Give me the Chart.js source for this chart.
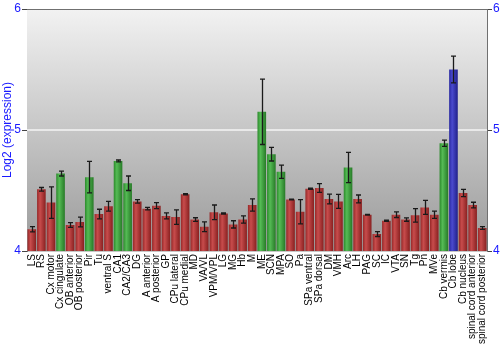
<!DOCTYPE html>
<html><head><meta charset="utf-8">
<script src="https://cdn.jsdelivr.net/npm/chart.js@4/dist/chart.umd.min.js"></script>
<style>html,body{margin:0;padding:0;background:#fff}#wrap{width:500px;height:350px}</style>
</head><body><div id="wrap"><canvas id="c" width="500" height="350"></canvas></div>
<script>
const categories = ["LS","RS","Cx motor","Cx cingulate","OB anterior","OB posterior","Pir","Tu","ventral S","CA1","CA2/CA3","DG","A anterior","A posterior","GP","CPu lateral","CPu medial","MD","VA/VL","VPM/VPL","LG","MG","Hb","M","ME","SCN","MPA","SO","Pa","SPa ventral","SPa dorsal","DM","VMH","Arc","LH","PAG","SC","IC","VTA","SN","Tg","Pn","MVe","Cb vermis","Cb lobe","Cb nucleus","spinal cord anterior","spinal cord posterior"];
const expression = [4.18,4.51,4.40,4.64,4.215,4.24,4.61,4.305,4.37,4.744,4.56,4.41,4.35,4.375,4.29,4.28,4.47,4.26,4.20,4.32,4.31,4.22,4.26,4.38,5.15,4.80,4.655,4.425,4.325,4.515,4.52,4.43,4.41,4.69,4.43,4.30,4.14,4.25,4.30,4.26,4.295,4.36,4.30,4.89,5.50,4.48,4.38,4.19];
const errors = [0.022,0.015,0.13,0.02,0.02,0.04,0.13,0.04,0.04,0.008,0.06,0.015,0.01,0.025,0.025,0.06,0.005,0.015,0.04,0.06,0.005,0.03,0.03,0.05,0.27,0.056,0.054,0.003,0.1,0.005,0.036,0.04,0.058,0.125,0.033,0.003,0.02,0.005,0.023,0.014,0.056,0.058,0.03,0.026,0.11,0.03,0.023,0.012];
const groups = ["r","r","r","g","r","r","g","r","r","g","g","r","r","r","r","r","r","r","r","r","r","r","r","r","g","g","g","r","r","r","r","r","r","g","r","r","r","r","r","r","r","r","r","g","b","r","r","r"];
const yTicks = [4,5,6];

const palette = {
  r: ["#962828","#c84c4c","#882020"],
  g: ["#2c8a2c","#55bb55","#277a27"],
  b: ["#2828a0","#4a4ace","#20208a"]
};

function barFill(ctx){
  const chart = ctx.chart;
  const xs = chart.scales && chart.scales.x;
  const g = groups[ctx.dataIndex] || "r";
  const p = palette[g];
  if (!xs || !chart.chartArea) return p[1];
  const cx = xs.getPixelForValue(ctx.dataIndex);
  const w = xs.width / categories.length * 0.9;
  const grad = chart.ctx.createLinearGradient(cx - w/2, 0, cx + w/2, 0);
  grad.addColorStop(0, p[0]);
  grad.addColorStop(0.35, p[1]);
  grad.addColorStop(1, p[2]);
  return grad;
}

const bgPlugin = {
  id: 'bg',
  beforeDatasetsDraw(chart){
    const a = chart.chartArea, c = chart.ctx;
    c.save();
    const gr = c.createLinearGradient(0, a.top, 0, a.bottom);
    gr.addColorStop(0, "#f2f2f2");
    gr.addColorStop(1, "#9a9a9a");
    c.fillStyle = gr;
    c.fillRect(a.left, a.top, a.right - a.left, a.bottom - a.top);
    const y5 = chart.scales.y.getPixelForValue(5);
    c.strokeStyle = "#f4f4f4"; c.lineWidth = 1.5;
    c.beginPath(); c.moveTo(a.left, y5); c.lineTo(a.right, y5); c.stroke();
    c.strokeStyle = "#707070"; c.lineWidth = 1;
    c.beginPath(); c.moveTo(a.left, a.top + 0.5); c.lineTo(a.right, a.top + 0.5); c.stroke();
    c.restore();
  }
};

const errPlugin = {
  id: 'err',
  afterDatasetsDraw(chart){
    const meta = chart.getDatasetMeta(0);
    const ys = chart.scales.y, c = chart.ctx;
    c.save();
    c.strokeStyle = "#1a1a1a"; c.lineWidth = 1.3;
    meta.data.forEach((el, i) => {
      const v = expression[i], e = errors[i];
      const t = ys.getPixelForValue(v + e), b = ys.getPixelForValue(v - e);
      const x = Math.round(el.x) + 0.5;
      c.beginPath();
      c.moveTo(x, t); c.lineTo(x, b);
      c.moveTo(x - 2.5, t); c.lineTo(x + 2.5, t);
      c.moveTo(x - 2.5, b); c.lineTo(x + 2.5, b);
      c.stroke();
    });
    c.restore();
  }
};

const tickFont = {family: "'Liberation Sans', Arial, sans-serif", size: 12};
new Chart(document.getElementById('c'), {
  type: 'bar',
  data: {
    labels: categories,
    datasets: [{
      data: expression,
      backgroundColor: barFill,
      borderWidth: 0,
      barPercentage: 0.9,
      categoryPercentage: 1.0
    }]
  },
  options: {
    responsive: false,
    animation: false,
    events: [],
    layout: {padding: {top: 9, left: 0, right: 0, bottom: 0}},
    plugins: {legend: {display: false}, tooltip: {enabled: false}},
    scales: {
      x: {
        offset: true,
        grid: {display: false, drawTicks: false},
        border: {display: true, color: "#c8c8c8"},
        ticks: {
          autoSkip: false, maxRotation: 90, minRotation: 90, padding: 3,
          color: "#000",
          font: {family: "'Liberation Sans', Arial, sans-serif", size: 10}
        },
        afterFit(s){ s.height = 99; }
      },
      y: {
        position: 'left',
        min: 4, max: 6,
        afterBuildTicks(s){ s.ticks = yTicks.map(v => ({value: v})); },
        grid: {drawOnChartArea: false, drawTicks: true, tickLength: 5, color: "#444"},
        border: {display: true, color: "#707070"},
        ticks: {color: "#1a1aff", font: tickFont, padding: 1},
        title: {display: true, text: "Log2 (expression)", color: "#1a1aff", font: tickFont, padding: 0},
        afterFit(s){ s.width = 27; }
      },
      y2: {
        position: 'right',
        min: 4, max: 6,
        afterBuildTicks(s){ s.ticks = yTicks.map(v => ({value: v})); },
        grid: {drawOnChartArea: false, drawTicks: true, tickLength: 5, color: "#444"},
        border: {display: true, color: "#707070"},
        ticks: {color: "#1a1aff", font: tickFont, padding: 1},
        afterFit(s){ s.width = 13; }
      }
    }
  },
  plugins: [bgPlugin, errPlugin]
});
</script></body></html>
